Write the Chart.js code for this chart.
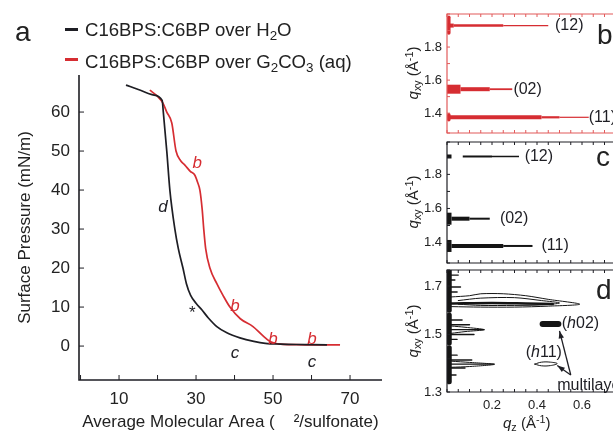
<!DOCTYPE html>
<html>
<head>
<meta charset="utf-8">
<script src="https://cdn.jsdelivr.net/npm/chart.js@4.4.0/dist/chart.umd.min.js"></script>
<style>
  body { margin: 0; width: 613px; height: 435px; overflow: hidden; background: #fff; position: relative;
         font-family: "Liberation Sans", Arial, sans-serif; color: #222; }
  canvas { position: absolute; }
  .t { position: absolute; white-space: nowrap; line-height: 1; }
  .dash { position: absolute; height: 3px; width: 13px; }
  .sb { font-size: 0.72em; position: relative; top: 0.3em; }
  .sp { font-size: 0.72em; position: relative; top: -0.45em; }
  .rot { position: absolute; white-space: nowrap; line-height: 1; font-size: 15px;
         transform: translate(-50%, -50%) rotate(-90deg); }
</style>
</head>
<body>
<canvas id="chartA" width="400" height="435" style="left:0;top:0"></canvas>
<canvas id="chartB" width="240" height="140" style="left:400px;top:0"></canvas>
<canvas id="chartC" width="240" height="135" style="left:400px;top:135px"></canvas>
<canvas id="chartD" width="240" height="173" style="left:400px;top:262px"></canvas>

<div class="t" style="left:15px;top:18px;font-size:28px">a</div>
<div class="dash" style="left:65px;top:28px;background:#1e1e24"></div>
<div class="t" style="left:85px;top:21px;font-size:18.6px">C16BPS:C6BP over H<span class="sb">2</span>O</div>
<div class="dash" style="left:65px;top:58px;background:rgb(214,45,50)"></div>
<div class="t" style="left:85px;top:53px;font-size:18.6px">C16BPS:C6BP over G<span class="sb">2</span>CO<span class="sb">3</span> (aq)</div>

<div class="t" style="left:597px;top:21px;font-size:28px">b</div>
<div class="t" style="left:596px;top:143px;font-size:28px">c</div>
<div class="t" style="left:596px;top:276px;font-size:28px">d</div>

<div class="rot" style="left:412px;top:73px"><i>q</i><span class="sb">xy</span> (Å<span class="sp">-1</span>)</div>
<div class="rot" style="left:412px;top:202px"><i>q</i><span class="sb">xy</span> (Å<span class="sp">-1</span>)</div>
<div class="rot" style="left:412px;top:331px"><i>q</i><span class="sb">xy</span> (Å<span class="sp">-1</span>)</div>
<div class="t" style="left:503px;top:415px;font-size:15px"><i>q</i><span class="sb">z</span> (Å<span class="sp">-1</span>)</div>

<script>
// ---- panel a : isotherms
const areaH2O = [11.8, 15, 18.8, 21.2, 21.5, 22.4, 23.2, 24.5, 25.4, 26.6, 27.5, 28.6, 30, 31.5, 33.2, 35.4, 38, 41.4, 45, 48, 52, 56, 60, 64];
const piH2O   = [66.9, 65.8, 64.4, 63, 60, 50, 40, 30, 25, 20, 16, 13, 11, 9.3, 7.2, 5, 3.4, 2.1, 1.2, 0.7, 0.5, 0.4, 0.35, 0.3];
const areaCO3 = [18, 20, 21.4, 22.4, 23.7, 24.8, 26, 27.1, 28.5, 29.7, 30.4, 31, 31.6, 32, 32.5, 33.6, 35.4, 37, 38.8, 41.5, 44.8, 47.2, 49.2, 52, 56, 60, 64, 67.4];
const piCO3   = [65.6, 64, 62.3, 60, 57.2, 50, 47.5, 46.4, 44.8, 43.8, 42, 40, 35, 30, 25, 20, 16, 13, 10, 7, 5, 2.8, 1.2, 0.5, 0.35, 0.3, 0.3, 0.3];
const xLabelsA = [10, 30, 50, 70];
const yLabelsA = [0, 10, 20, 30, 40, 50, 60];

// letters on the isotherms
const tagText = ['d', 'b', '*', 'b', 'c', 'b', 'b', 'c'];
const tagArea = [21.4, 30.3, 29, 40.1, 40.1, 50, 60.1, 60.1];
const tagPi   = [35.6, 46.9, 8.5, 10.3, -1.8, 1.8, 1.8, -4.1];
const tagRed  = [false, true, false, true, false, true, true, false];

// ---- panel b (over carbonate)
const bPeak  = [1.93, 1.545, 1.375];
const bReach = [[0, 0.03, 0.25, 0.45], [0, 0.06, 0.19, 0.29], [0, 0.42, 0.5, 0.63]];
const bBlobLow  = [1.885, 1.36];
const bBlobHigh = [1.98, 1.39];
const bNames = ['(12)', '(02)', '(11)'];
const bNameQz = [0.48, 0.295, 0.63];

// ---- panel c (over water)
const cPeak  = [1.905, 1.905, 1.54, 1.38];
const cReach = [[0, 0.02], [0.07, 0.2, 0.32], [0, 0.02, 0.1, 0.19], [0, 0.02, 0.25, 0.38]];
const cNames = ['(12)', '(02)', '(11)'];
const cNamePeak = [1.905, 1.54, 1.38];
const cNameQz = [0.345, 0.235, 0.42];

// ---- panel d (compressed, multilayer)
const dEdgeLow  = [1.305, 1.465, 1.6];
const dEdgeHigh = [1.445, 1.58, 1.765];
const dSpikeQxy = [1.745, 1.725, 1.696, 1.675, 1.56, 1.54, 1.52, 1.5, 1.48, 1.415, 1.395, 1.378, 1.362, 1.333];
const dSpikeQz  = [0.05, 0.035, 0.06, 0.045, 0.067, 0.1, 0.165, 0.12, 0.045, 0.045, 0.11, 0.21, 0.08, 0.04];
const dOuterQz  = [0.02, 0.1, 0.15, 0.25, 0.35, 0.45, 0.59, 0.45, 0.3, 0.15, 0.02];
const dOuterQxy = [1.655, 1.66, 1.668, 1.668, 1.66, 1.645, 1.625, 1.617, 1.613, 1.613, 1.615];
const dInnerQz  = [0.05, 0.15, 0.3, 0.42, 0.5, 0.42, 0.3, 0.15, 0.05];
const dInnerQxy = [1.64, 1.65, 1.652, 1.64, 1.63, 1.622, 1.62, 1.62, 1.625];
const dCoreQz   = [0.02, 0.2, 0.35, 0.47];
const dCoreQxy  = [1.628, 1.63, 1.628, 1.626];
const dMidQz    = [0.02, 0.08, 0.165, 0.08, 0.02];
const dMidQxy   = [1.535, 1.53, 1.52, 1.512, 1.505];
const dLowQz    = [0.02, 0.1, 0.21, 0.1, 0.02];
const dLowQxy   = [1.39, 1.385, 1.377, 1.368, 1.365];
const h02Qz  = [0.425, 0.495];
const h02Qxy = [1.543, 1.543];
const h11Qz  = [0.39, 0.42, 0.46, 0.49, 0.46, 0.42, 0.39];
const h11Qxy = [1.378, 1.386, 1.386, 1.38, 1.372, 1.371, 1.378];
const arrowTail = [0.55, 1.333];
const arrowHeadQz  = [0.5, 0.49];
const arrowHeadQxy = [1.515, 1.372];
const dLabelsX = [0.2, 0.4, 0.6];
const dLabelsY = [1.3, 1.5, 1.7];

const RED = 'rgb(214,45,50)';
const RED_FRAME = 'rgb(226,90,90)';
const BLK = '#1e1e24';
const FONT = '"Liberation Sans", Arial, sans-serif';

const pts = (xs, ys) => xs.map((x, i) => ({ x: x, y: ys[i] }));
const flat = (xs, y) => xs.map(x => ({ x: x, y: y }));
const noPad = s => { s.paddingTop = 0; s.paddingBottom = 0; s.paddingLeft = 0; s.paddingRight = 0; };

// axis frame + inward tick marks
function framePlugin(color, len, box) {
  return {
    id: 'frame',
    afterDatasetsDraw(chart) {
      const { ctx, chartArea: a, scales } = chart;
      ctx.save();
      ctx.strokeStyle = color;
      ctx.lineWidth = box ? 1.2 : 1.6;
      ctx.beginPath();
      if (box) {
        ctx.rect(a.left, a.top, a.right - a.left, a.bottom - a.top);
      } else {
        ctx.moveTo(a.left, a.top); ctx.lineTo(a.left, a.bottom); ctx.lineTo(a.right, a.bottom);
      }
      ctx.stroke();
      ctx.lineWidth = 1;
      ctx.beginPath();
      scales.x.ticks.forEach(t => {
        const px = scales.x.getPixelForValue(t.value);
        ctx.moveTo(px, a.bottom); ctx.lineTo(px, a.bottom - len);
        if (box) { ctx.moveTo(px, a.top); ctx.lineTo(px, a.top + len); }
      });
      scales.y.ticks.forEach(t => {
        const py = scales.y.getPixelForValue(t.value);
        ctx.moveTo(a.left, py); ctx.lineTo(a.left + len, py);
        if (box) { ctx.moveTo(a.right, py); ctx.lineTo(a.right - len, py); }
      });
      ctx.stroke();
      ctx.restore();
    }
  };
}

// text at data positions; a piece list [text, italic] gives mixed styles
function notesPlugin(items, size) {
  return {
    id: 'notes',
    afterDatasetsDraw(chart) {
      const { ctx, scales } = chart;
      ctx.save();
      ctx.textBaseline = 'middle';
      items.forEach(it => {
        let px = scales.x.getPixelForValue(it.x);
        const py = scales.y.getPixelForValue(it.y);
        ctx.fillStyle = it.color || BLK;
        const pieces = Array.isArray(it.text) ? it.text : [[it.text, it.italic]];
        ctx.textAlign = 'left';
        if (it.center) {
          ctx.font = (pieces[0][1] ? 'italic ' : '') + size + 'px ' + FONT;
          px -= ctx.measureText(pieces[0][0]).width / 2;
        }
        pieces.forEach(p => {
          ctx.font = (p[1] ? 'italic ' : '') + size + 'px ' + FONT;
          ctx.fillText(p[0], px, py);
          px += ctx.measureText(p[0]).width;
        });
      });
      ctx.restore();
    }
  };
}

// ---------------- panel a
new Chart(document.getElementById('chartA'), {
  type: 'scatter',
  data: {
    datasets: [
      { data: pts(areaH2O, piH2O), borderColor: BLK, borderWidth: 1.7, showLine: true, pointRadius: 0, cubicInterpolationMode: 'monotone' },
      { data: pts(areaCO3, piCO3), borderColor: RED, borderWidth: 1.7, showLine: true, pointRadius: 0, cubicInterpolationMode: 'monotone' }
    ]
  },
  options: {
    responsive: false, animation: false, devicePixelRatio: 1,
    layout: { padding: { top: 75, right: 18, left: 0, bottom: 0 } },
    plugins: { legend: { display: false }, tooltip: { enabled: false } },
    scales: {
      x: {
        type: 'linear', min: -0.4, max: 78.3,
        grid: { display: false, drawTicks: false }, border: { display: false },
        ticks: { stepSize: 10, includeBounds: false, autoSkip: false, maxRotation: 0, padding: 9, color: '#222',
                 font: { size: 17, family: FONT },
                 callback: v => xLabelsA.includes(v) ? v : '' },
        title: { display: true, text: 'Average Molecular Area (    ²/sulfonate)', color: '#222',
                 font: { size: 17, family: FONT }, padding: { top: 0, bottom: 2 } },
        afterFit: s => { s.height = 55; noPad(s); }
      },
      y: {
        type: 'linear', min: -8.7, max: 69.5,
        grid: { display: false, drawTicks: false }, border: { display: false },
        ticks: { stepSize: 10, includeBounds: false, autoSkip: false, padding: 9, color: '#222',
                 font: { size: 17, family: FONT },
                 callback: v => yLabelsA.includes(v) ? v : '' },
        title: { display: true, text: 'Surface Pressure (mN/m)', color: '#222',
                 font: { size: 17, family: FONT }, padding: { top: 15, bottom: 0 } },
        afterFit: s => { s.width = 79; noPad(s); }
      }
    }
  },
  plugins: [
    framePlugin(BLK, 5, false),
    notesPlugin(tagText.map((s, i) => ({ text: s, x: tagArea[i], y: tagPi[i], italic: s !== '*', center: true,
                                         color: tagRed[i] ? RED : BLK })), 17)
  ]
});

// ---------------- panels b, c, d
function panelScales(yMin, yMax, showX) {
  return {
    x: {
      type: 'linear', min: 0, max: 0.8, display: showX,
      grid: { display: false, drawTicks: false }, border: { display: false },
      ticks: { stepSize: 0.05, autoSkip: false, maxRotation: 0, minRotation: 0, padding: 6, color: '#222',
               font: { size: 13, family: FONT },
               callback: v => dLabelsX.some(l => Math.abs(l - v) < 1e-6) ? v.toFixed(1) : '' },
      afterFit: s => { s.height = showX ? 43 : 0; noPad(s); }
    },
    y: {
      type: 'linear', min: yMin, max: yMax,
      grid: { display: false, drawTicks: false }, border: { display: false },
      ticks: { stepSize: 0.1, autoSkip: false, padding: 5, color: '#222', font: { size: 13, family: FONT },
               callback: v => {
                 const k = Math.round(v * 10);
                 const show = showX ? dLabelsY.some(l => Math.round(l * 10) === k) : [14, 16, 18].includes(k);
                 return show ? (k / 10).toFixed(1) : '';
               } },
      afterFit: s => { s.width = 47; noPad(s); }
    }
  };
}

function streakSets(peaks, reaches, widths, color) {
  return peaks.map((p, i) => ({
    data: flat(reaches[i], p), borderColor: color, borderWidth: widths[i][0], showLine: true,
    pointRadius: 0, borderCapStyle: 'butt',
    segment: { borderWidth: c => widths[i][c.p0DataIndex] }
  }));
}

function lineSet(xs, ys, color, w, tension) {
  return { data: pts(xs, ys), borderColor: color, borderWidth: w, showLine: true, pointRadius: 0,
           tension: tension || 0, borderCapStyle: 'round' };
}

const baseOpts = (pad, scales) => ({
  responsive: false, animation: false, devicePixelRatio: 1,
  layout: { padding: pad },
  plugins: { legend: { display: false }, tooltip: { enabled: false } },
  scales: scales
});

// b
const bWidths = [[4, 2.5, 1.3], [9, 4, 1.8], [4, 2.2, 1.2]];
new Chart(document.getElementById('chartB'), {
  type: 'scatter',
  data: {
    datasets: streakSets(bPeak, bReach, bWidths, RED).concat(
      bBlobLow.map((lo, i) => lineSet([0.008, 0.008], [lo, bBlobHigh[i]], RED, 3.5)))
  },
  options: baseOpts({ top: 14, right: 13, bottom: 7, left: 0 }, panelScales(1.28, 2.0, false)),
  plugins: [
    framePlugin(RED_FRAME, 3, true),
    notesPlugin(bNames.map((s, i) => ({ text: s, x: bNameQz[i], y: bPeak[i] })), 16)
  ]
});

// c
const cWidths = [[4], [2, 1.5], [12, 4, 2], [12, 4, 2]];
new Chart(document.getElementById('chartC'), {
  type: 'scatter',
  data: { datasets: streakSets(cPeak, cReach, cWidths, '#151515') },
  options: baseOpts({ top: 7, right: 13, bottom: 7, left: 0 }, panelScales(1.28, 1.99, false)),
  plugins: [
    framePlugin(BLK, 3, true),
    notesPlugin(cNames.map((s, i) => ({ text: s, x: cNameQz[i], y: cNamePeak[i] })), 16)
  ]
});

// d
const arrows = {
  id: 'arrows',
  afterDatasetsDraw(chart) {
    const { ctx, scales } = chart;
    const tx = scales.x.getPixelForValue(arrowTail[0]);
    const ty = scales.y.getPixelForValue(arrowTail[1]);
    ctx.save();
    ctx.strokeStyle = BLK; ctx.fillStyle = BLK; ctx.lineWidth = 1.3;
    arrowHeadQz.forEach((q, i) => {
      const hx = scales.x.getPixelForValue(q);
      const hy = scales.y.getPixelForValue(arrowHeadQxy[i]);
      const ang = Math.atan2(hy - ty, hx - tx);
      ctx.beginPath(); ctx.moveTo(tx, ty); ctx.lineTo(hx, hy); ctx.stroke();
      ctx.beginPath();
      ctx.moveTo(hx, hy);
      ctx.lineTo(hx - 8 * Math.cos(ang - 0.35), hy - 8 * Math.sin(ang - 0.35));
      ctx.lineTo(hx - 8 * Math.cos(ang + 0.35), hy - 8 * Math.sin(ang + 0.35));
      ctx.closePath(); ctx.fill();
    });
    ctx.restore();
  }
};

const dSets = []
  .concat(dEdgeLow.map((lo, i) => lineSet([0.01, 0.01], [lo, dEdgeHigh[i]], '#151515', 5)))
  .concat(dSpikeQxy.map((q, i) => lineSet([0.01, dSpikeQz[i]], [q, q], '#151515', 1.4)))
  .concat([
    lineSet(dOuterQz, dOuterQxy, '#151515', 1, 0.3),
    lineSet(dInnerQz, dInnerQxy, '#151515', 1, 0.3),
    lineSet(dCoreQz, dCoreQxy, '#151515', 2.5, 0.3),
    lineSet(dMidQz, dMidQxy, '#151515', 1, 0.3),
    lineSet(dLowQz, dLowQxy, '#151515', 1, 0.3),
    lineSet(h02Qz, h02Qxy, '#151515', 6),
    lineSet(h11Qz, h11Qxy, '#151515', 1, 0.4)
  ]);

new Chart(document.getElementById('chartD'), {
  type: 'scatter',
  data: { datasets: dSets },
  options: baseOpts({ top: 8, right: 13, bottom: 0, left: 0 }, panelScales(1.263, 1.766, true)),
  plugins: [
    framePlugin(BLK, 3, true),
    arrows,
    notesPlugin([
      { text: [['(', false], ['h', true], ['02)', false]], x: 0.51, y: 1.545 },
      { text: [['(', false], ['h', true], ['11)', false]], x: 0.35, y: 1.427 },
      { text: 'multilayer', x: 0.49, y: 1.29 }
    ], 16)
  ]
});
</script>
</body>
</html>
